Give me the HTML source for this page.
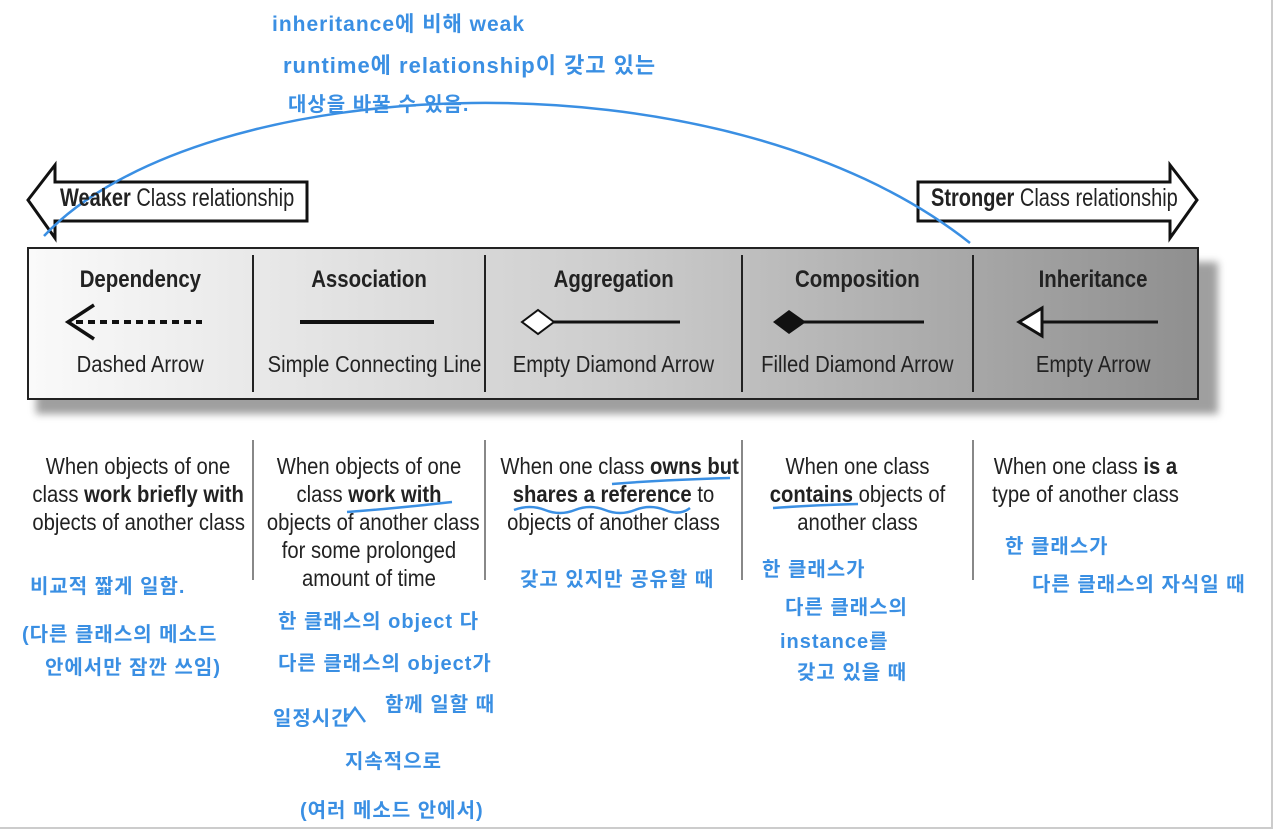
<!DOCTYPE html>
<html><head><meta charset="utf-8"><style>
body{margin:0;width:1277px;height:830px;background:#fff;position:relative;overflow:hidden;font-family:"Liberation Sans",sans-serif;color:#222}
.a{position:absolute;white-space:nowrap;transform:scaleX(0.8);transform-origin:left center}
.hw{position:absolute;white-space:nowrap;color:#3a8fe3;font-family:"Liberation Sans","Noto Sans CJK KR",sans-serif;font-size:20px;font-weight:bold;letter-spacing:1px}
.col{position:absolute;top:452px;text-align:center;font-size:23px;line-height:28px;white-space:nowrap}
.col div,.h span,.s span{display:inline-block;transform:scaleX(0.88);transform-origin:center}
.h span{transform:scaleX(0.85)}
.col div{display:block}
.h{position:absolute;top:266px;font-size:24px;font-weight:bold;text-align:center;white-space:nowrap}
.s{position:absolute;top:351px;font-size:23px;text-align:center;white-space:nowrap}
</style></head><body>
<div style="position:absolute;left:0;top:0;width:1271px;height:827px;border-right:2px solid #ccc;border-bottom:2px solid #ccc"></div>
<svg width="1277" height="830" style="position:absolute;left:0;top:0">
<defs><linearGradient id="g" x1="0" x2="1"><stop offset="0" stop-color="#fafafa"/><stop offset="0.5" stop-color="#cdcdcd"/><stop offset="1" stop-color="#8f8f8f"/></linearGradient>
<filter id="b"><feGaussianBlur stdDeviation="4"/></filter></defs>
<rect x="36" y="262" width="1182" height="152" fill="#777" filter="url(#b)" opacity="0.7"/>
<rect x="28" y="248" width="1170" height="151" fill="url(#g)" stroke="#222" stroke-width="2"/>
<g stroke="#222" stroke-width="2"><line x1="253" y1="255" x2="253" y2="392"/><line x1="485" y1="255" x2="485" y2="392"/><line x1="742" y1="255" x2="742" y2="392"/><line x1="973" y1="255" x2="973" y2="392"/></g>
<polygon points="28,200 55,165 55,182 307,182 307,221 55,221 55,238" fill="#fff" stroke="#111" stroke-width="3"/>
<polygon points="1197,200 1170,165 1170,182 918,182 918,221 1170,221 1170,238" fill="#fff" stroke="#111" stroke-width="3"/>
<line x1="76" y1="322" x2="202" y2="322" stroke="#111" stroke-width="4" stroke-dasharray="7,5"/>
<polyline points="94,305 68,322 94,339" fill="none" stroke="#111" stroke-width="3.5"/>
<line x1="300" y1="322" x2="434" y2="322" stroke="#111" stroke-width="4"/>
<line x1="552" y1="322" x2="680" y2="322" stroke="#111" stroke-width="3"/>
<polygon points="522,322 538,310 554,322 538,334" fill="#fff" stroke="#111" stroke-width="2"/>
<line x1="800" y1="322" x2="924" y2="322" stroke="#111" stroke-width="3"/>
<polygon points="773,322 789,310 806,322 789,334" fill="#111"/>
<line x1="1040" y1="322" x2="1158" y2="322" stroke="#111" stroke-width="3"/>
<polygon points="1019,322 1042,308 1042,336" fill="#fff" stroke="#111" stroke-width="3"/>
<g stroke="#888" stroke-width="2"><line x1="253" y1="440" x2="253" y2="580"/><line x1="485" y1="440" x2="485" y2="580"/><line x1="742" y1="440" x2="742" y2="580"/><line x1="973" y1="440" x2="973" y2="580"/></g>
<g stroke="#3a8fe3" stroke-width="2.5" fill="none">
<path d="M44 236 C 200 70, 720 45, 970 243"/>
<path d="M347 512 Q 400 508 452 502"/>
<path d="M612 484 Q 660 480 730 478"/>
<path d="M514 510 Q 530 504 545 510 T 575 510 T 605 510 T 635 510 T 665 510 T 690 508"/>
<path d="M773 508 Q 815 505 858 504"/>
<path d="M345 722 L355 708 L365 722"/>
</g>
</svg>
<div class="a" style="left:60px;top:184px;font-size:25px"><b>Weaker</b> Class relationship</div>
<div class="a" style="left:931px;top:184px;font-size:25px"><b>Stronger</b> Class relationship</div>
<div class="h" style="left:28px;width:225px"><span>Dependency</span></div>
<div class="h" style="left:253px;width:232px"><span>Association</span></div>
<div class="h" style="left:485px;width:257px"><span>Aggregation</span></div>
<div class="h" style="left:742px;width:231px"><span>Composition</span></div>
<div class="h" style="left:973px;width:240px"><span>Inheritance</span></div>
<div class="s" style="left:28px;width:225px"><span>Dashed Arrow</span></div>
<div class="s" style="left:253px;width:232px"><span>Simple Connecting Line</span></div>
<div class="s" style="left:485px;width:257px"><span>Empty Diamond Arrow</span></div>
<div class="s" style="left:742px;width:231px"><span>Filled Diamond Arrow</span></div>
<div class="s" style="left:973px;width:240px"><span>Empty Arrow</span></div>
<div class="col" style="left:18px;width:240px"><div>When objects of one</div><div>class <b>work briefly with</b></div><div>objects of another class</div></div>
<div class="col" style="left:253px;width:232px"><div>When objects of one</div><div>class <b>work with</b></div><div>objects of another class</div><div>for some prolonged</div><div>amount of time</div></div>
<div class="col" style="left:485px;width:257px"><div>When one class <b>owns but</b></div><div><b>shares a reference</b> to</div><div>objects of another class</div></div>
<div class="col" style="left:742px;width:231px"><div>When one class</div><div><b>contains</b> objects of</div><div>another class</div></div>
<div class="col" style="left:973px;width:225px"><div>When one class <b>is a</b></div><div>type of another class</div></div>
<div class="hw" style="left:272px;top:8px;font-size:21px">inheritance에 비해 weak</div>
<div class="hw" style="left:283px;top:48px;font-size:22px">runtime에 relationship이 갖고 있는</div>
<div class="hw" style="left:288px;top:88px">대상을 바꿀 수 있음.</div>
<div class="hw" style="left:30px;top:570px">비교적 짧게 일함.</div>
<div class="hw" style="left:22px;top:618px">(다른 클래스의 메소드</div>
<div class="hw" style="left:45px;top:651px">안에서만 잠깐 쓰임)</div>
<div class="hw" style="left:278px;top:605px">한 클래스의 object 다</div>
<div class="hw" style="left:278px;top:647px">다른 클래스의 object가</div>
<div class="hw" style="left:273px;top:702px">일정시간</div>
<div class="hw" style="left:385px;top:688px">함께 일할 때</div>
<div class="hw" style="left:345px;top:745px">지속적으로</div>
<div class="hw" style="left:300px;top:794px">(여러 메소드 안에서)</div>
<div class="hw" style="left:520px;top:563px">갖고 있지만 공유할 때</div>
<div class="hw" style="left:762px;top:553px">한 클래스가</div>
<div class="hw" style="left:785px;top:591px">다른 클래스의</div>
<div class="hw" style="left:780px;top:625px">instance를</div>
<div class="hw" style="left:797px;top:656px">갖고 있을 때</div>
<div class="hw" style="left:1005px;top:530px">한 클래스가</div>
<div class="hw" style="left:1032px;top:568px">다른 클래스의 자식일 때</div>
</body></html>
